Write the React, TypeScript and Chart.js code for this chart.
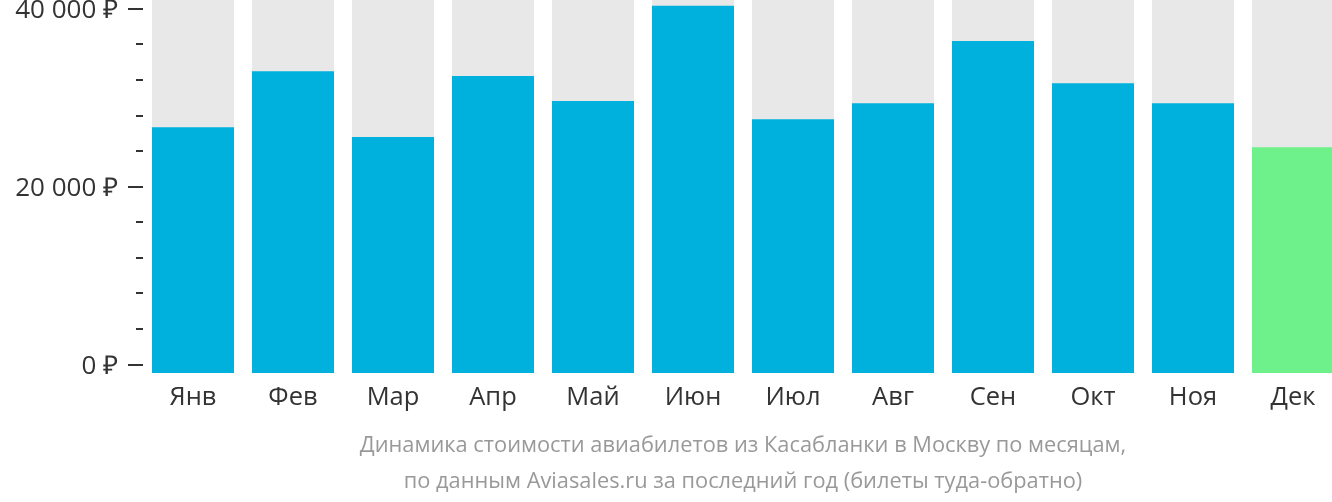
import React, { useEffect, useRef } from "react";
import { Chart, registerables } from "chart.js";

Chart.register(...registerables);

const months = ["Янв", "Фев", "Мар", "Апр", "Май", "Июн", "Июл", "Авг", "Сен", "Окт", "Ноя", "Дек"];
const prices = [26700, 33000, 25600, 32450, 29650, 40350, 27600, 29400, 36400, 31650, 29400, 24450];
const barColors = ["#00b0dd", "#00b0dd", "#00b0dd", "#00b0dd", "#00b0dd", "#00b0dd", "#00b0dd", "#00b0dd", "#00b0dd", "#00b0dd", "#00b0dd", "#6ef08a"];
const yMajorTicks = [0, 20000, 40000];
const yMinorStep = 4000;
const yMin = -950;
const yMax = 41000;
const titleLines = [
  "Динамика стоимости авиабилетов из Касабланки в Москву по месяцам,",
  "по данным Aviasales.ru за последний год (билеты туда-обратно)",
];

const FONT = "'Open Sans', sans-serif";

function fmt(v: number): string {
  const s = String(v).replace(/\B(?=(\d{3})+(?!\d))/g, " ");
  return s + " ₽";
}

function drawText(ctx: CanvasRenderingContext2D, text: string, x: number, y: number, align: CanvasTextAlign) {
  ctx.textAlign = align;
  ctx.textBaseline = "middle";
  ctx.fillText(text, x, y);
}

const textPlugin = {
  id: "customText",
  afterDraw(chart: any) {
    const { ctx, chartArea, scales } = chart;
    const y = scales.y;
    const x = scales.x;
    const left = chartArea.left;
    ctx.save();
    // y axis tick marks
    ctx.strokeStyle = "#333";
    ctx.lineWidth = 2;
    for (let v = 0; v <= 40000; v += yMinorStep) {
      const py = Math.round(y.getPixelForValue(v));
      const major = yMajorTicks.includes(v);
      ctx.beginPath();
      ctx.moveTo(left - (major ? 15 : 7), py);
      ctx.lineTo(left, py);
      ctx.stroke();
    }
    // y labels
    ctx.fillStyle = "#333";
    ctx.font = `26px ${FONT}`;
    for (const v of yMajorTicks) {
      drawText(ctx, fmt(v), left - 25, y.getPixelForValue(v) + 2, "right");
    }
    // x labels
    ctx.font = `25.5px ${FONT}`;
    months.forEach((m, i) => {
      drawText(ctx, m, x.getPixelForValue(i), chartArea.bottom + 25, "center");
    });
    // title
    ctx.fillStyle = "#999";
    ctx.font = `21.8px ${FONT}`;
    const cx = (chartArea.left + chartArea.right) / 2;
    titleLines.forEach((t, i) => {
      drawText(ctx, t, cx, chartArea.bottom + 73 + i * 36, "center");
    });
    ctx.restore();
  },
};

export default function App() {
  const ref = useRef<HTMLCanvasElement | null>(null);
  useEffect(() => {
    document.body.style.margin = "0";
    const canvas = ref.current!;
    const chart = new Chart(canvas, {
      type: "bar",
      data: {
        labels: months,
        datasets: [
          {
            data: prices,
            backgroundColor: barColors,
            borderWidth: 0,
            grouped: false,
            order: 1,
            base: yMin,
            barPercentage: 0.82,
            categoryPercentage: 1,
          } as any,
          {
            data: months.map(() => yMax),
            backgroundColor: "#e8e8e8",
            borderWidth: 0,
            grouped: false,
            order: 2,
            base: yMin,
            barPercentage: 0.82,
            categoryPercentage: 1,
          } as any,
        ],
      },
      options: {
        responsive: false,
        animation: false,
        layout: { padding: { left: 0, right: 0, top: 0, bottom: 129 } },
        plugins: {
          legend: { display: false },
          tooltip: { enabled: false },
          title: { display: false },
        },
        scales: {
          x: {
            display: false,
            grid: { display: false },
          },
          y: {
            min: yMin,
            max: yMax,
            grid: { display: false, drawTicks: false },
            border: { display: false },
            ticks: { display: false },
            afterFit: (scale: any) => {
              scale.width = 143;
            },
          },
        },
      },
      plugins: [textPlugin],
    });
    return () => chart.destroy();
  }, []);
  return (
    <div style={{ width: 1332, height: 502, overflow: "hidden", position: "relative" }}>
      <canvas ref={ref} width={1343} height={502} style={{ display: "block" }} />
    </div>
  );
}
